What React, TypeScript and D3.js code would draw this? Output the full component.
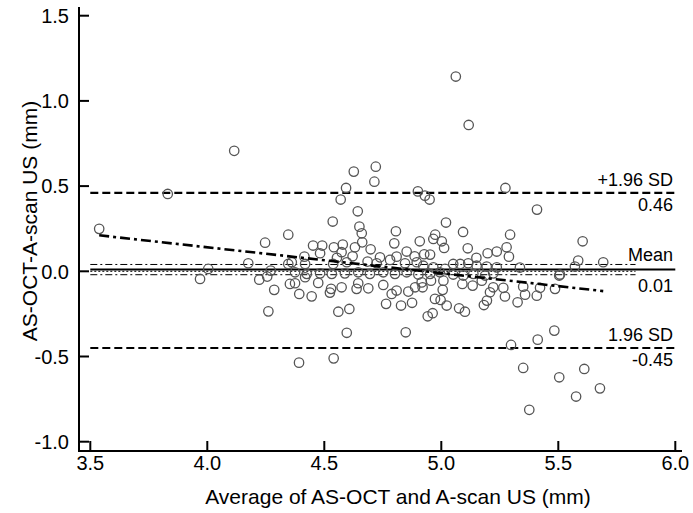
import React from "react";
import * as d3 from "d3";

// Average of AS-OCT and A-scan US (mm)
const averages = [
  3.538, 3.831, 4.115, 4.004, 3.969, 4.175, 4.222, 4.256, 4.271, 4.286, 4.261, 4.247, 4.346, 4.346, 4.353, 4.392,
  5.062, 5.117, 4.626, 4.720, 4.714, 4.593, 4.570, 4.900, 4.930, 4.950, 5.274, 4.643, 4.536, 5.020, 4.650, 4.660,
  4.806, 5.093, 5.294, 4.974, 4.966, 4.662, 4.799, 4.908, 5.002, 5.012, 5.113, 5.279, 4.452, 4.491, 4.541, 4.579,
  4.631, 4.698, 4.482, 4.574, 4.621, 4.738, 4.809, 4.852, 4.886, 4.927, 4.952, 5.198, 5.237, 5.289, 4.415, 4.554,
  4.685, 4.781, 5.081, 5.150, 5.409, 5.604, 5.585, 5.692, 5.504, 5.571,
  4.361, 4.418, 4.538, 4.596, 4.724, 4.845, 4.895, 4.375, 4.425, 4.482, 4.532, 4.588, 4.645, 4.695, 4.752, 4.802,
  4.852, 4.902, 4.923, 4.966, 5.016, 5.051, 5.115, 5.151, 5.194, 5.237, 4.952, 4.994, 5.051, 5.094, 5.137, 5.187,
  5.222, 5.507, 5.336,
  4.375, 4.393, 4.446, 4.474, 4.529, 4.524, 4.574, 4.645, 4.638, 4.688, 4.752, 4.788, 4.809, 4.859, 4.888, 4.920,
  4.956, 5.006, 4.973, 4.997, 5.023, 4.764, 4.828, 4.875, 5.076, 5.101, 4.560, 4.607, 4.942, 4.963, 5.090, 5.134,
  5.182, 5.195, 5.208, 5.222, 5.272, 5.326, 5.358, 4.418, 4.916, 5.009, 5.173, 5.265, 5.350, 5.408, 5.422, 5.486,
  4.596, 4.848, 5.298, 4.540, 5.350, 5.412, 5.483, 5.504, 5.611, 5.678, 5.576, 5.376,
];

// AS-OCT minus A-scan US (mm)
const differences = [
  0.249, 0.454, 0.707, 0.014, -0.045, 0.047, -0.049, -0.031, 0.004, -0.109, -0.235, 0.168, 0.215, 0.043, -0.074, -0.536,
  1.143, 0.859, 0.585, 0.614, 0.526, 0.489, 0.421, 0.469, 0.444, 0.421, 0.489, 0.352, 0.292, 0.286, 0.262, 0.223,
  0.235, 0.231, 0.215, 0.215, 0.190, 0.170, 0.164, 0.176, 0.176, 0.137, 0.135, 0.141, 0.151, 0.151, 0.141, 0.157,
  0.141, 0.129, 0.106, 0.112, 0.088, 0.082, 0.086, 0.116, 0.088, 0.100, 0.098, 0.106, 0.116, 0.086, 0.086, 0.079,
  0.057, 0.067, 0.043, 0.079, 0.362, 0.176, 0.063, 0.053, -0.025, 0.028,
  0.053, 0.043, 0.043, 0.053, 0.047, 0.047, 0.053, -0.006, -0.015, -0.012, -0.015, -0.012, -0.006, -0.015, -0.006, -0.015,
  -0.006, -0.019, 0.033, 0.023, 0.014, 0.043, 0.047, 0.033, 0.028, 0.023, -0.015, -0.006, -0.019, -0.025, -0.015, -0.025,
  -0.012, -0.019, 0.022,
  -0.070, -0.133, -0.147, -0.068, -0.103, -0.125, -0.094, -0.070, -0.103, -0.100, -0.080, -0.133, -0.113, -0.119, -0.094, -0.094,
  -0.055, -0.109, -0.162, -0.168, -0.201, -0.191, -0.201, -0.185, -0.217, -0.237, -0.237, -0.221, -0.264, -0.246, -0.074, -0.084,
  -0.198, -0.172, -0.123, -0.094, -0.148, -0.182, -0.137, -0.035, -0.065, -0.055, -0.055, -0.097, -0.090, -0.143, -0.097, -0.103,
  -0.361, -0.358, -0.432, -0.511, -0.567, -0.401, -0.348, -0.622, -0.573, -0.687, -0.735, -0.813,
];

const xTicks = [3.5, 4.0, 4.5, 5.0, 5.5, 6.0];
const yTicks = [-1.0, -0.5, 0.0, 0.5, 1.0, 1.5];

const meanDiff = 0.01;
const upperLoA = 0.46;
const lowerLoA = -0.45;
const meanCILow = -0.02;
const meanCIHigh = 0.04;
const zeroLine = 0;
const regIntercept = 0.749;
const regSlope = -0.152;

const xTitle = "Average of AS-OCT and A-scan US (mm)";
const yTitle = "AS-OCT-A-scan US (mm)";

export default function App() {
  const W = 693;
  const H = 513;
  const x = d3.scaleLinear().domain([3.5, 6.0]).range([90.3, 675.3]);
  const y = d3.scaleLinear().domain([-1.0, 1.5]).range([441.7, 15.7]);
  const axX = 79;
  const axY = 451;
  const fmt = (v: number) => v.toFixed(1);
  const font = "'Liberation Sans', Arial, Helvetica, sans-serif";

  const xMin = d3.min(averages) as number;
  const xMax = d3.max(averages) as number;
  const line = d3.line<[number, number]>().x((d) => x(d[0])).y((d) => y(d[1]));
  const regPath = line([
    [xMin, regIntercept + regSlope * xMin],
    [xMax, regIntercept + regSlope * xMax],
  ]);
  const ciEnd = 5.83;

  const hline = (v: number, x0: number, x1: number) => line([[x0, v], [x1, v]]) as string;

  return (
    <div style={{ position: "absolute", left: 0, top: 0 }}>
      <svg width={W} height={H} style={{ display: "block", background: "#fff" }} fontFamily={font}>
        {/* reference lines */}
        <path d={hline(upperLoA, 3.5, 6.0)} stroke="#000" strokeWidth={2.2} strokeDasharray="8,4" fill="none" />
        <path d={hline(lowerLoA, 3.5, 6.0)} stroke="#000" strokeWidth={2.2} strokeDasharray="8,4" fill="none" />
        <path d={hline(meanCIHigh, 3.5, ciEnd)} stroke="#000" strokeWidth={1} strokeDasharray="7,3,2,3" fill="none" />
        <path d={hline(meanCILow, 3.5, ciEnd)} stroke="#000" strokeWidth={1} strokeDasharray="7,3,2,3" fill="none" />
        <path d={hline(zeroLine, 3.5, ciEnd)} stroke="#000" strokeWidth={1} strokeDasharray="2,2" fill="none" />
        <path d={hline(meanDiff, 3.5, 6.0)} stroke="#000" strokeWidth={2} fill="none" />

        {/* points */}
        {averages.map((a, i) => (
          <circle key={i} cx={x(a)} cy={y(differences[i])} r={4.7} fill="none" stroke="#555" strokeWidth={1.3} />
        ))}

        {/* regression line */}
        <path d={regPath as string} stroke="#000" strokeWidth={2.6} strokeDasharray="10,4,3,4" fill="none" />

        {/* right labels */}
        <g fontSize={18} textAnchor="end" fill="#000">
          <text x={673} y={y(upperLoA) - 6.5}>+1.96 SD</text>
          <text x={673} y={y(upperLoA) + 18}>{upperLoA.toFixed(2)}</text>
          <text x={673} y={y(meanDiff) - 9}>Mean</text>
          <text x={673} y={y(meanDiff) + 22.5}>{meanDiff.toFixed(2)}</text>
          <text x={673} y={y(lowerLoA) - 6.5}>1.96 SD</text>
          <text x={673} y={y(lowerLoA) + 18}>{lowerLoA.toFixed(2)}</text>
        </g>

        {/* axes */}
        <line x1={axX} y1={7} x2={axX} y2={axY + 1} stroke="#000" strokeWidth={2} />
        <line x1={axX - 1} y1={axY} x2={682} y2={axY} stroke="#000" strokeWidth={2} />
        {yTicks.map((t) => (
          <g key={"y" + t}>
            <line x1={axX} x2={axX + 10} y1={y(t)} y2={y(t)} stroke="#000" strokeWidth={2} />
            <text x={69} y={y(t)} dy="0.36em" textAnchor="end" fontSize={20}>
              {fmt(t)}
            </text>
          </g>
        ))}
        {xTicks.map((t) => (
          <g key={"x" + t}>
            <line x1={x(t)} x2={x(t)} y1={axY} y2={axY - 10} stroke="#000" strokeWidth={2} />
            <text x={x(t)} y={470} textAnchor="middle" fontSize={20}>
              {fmt(t)}
            </text>
          </g>
        ))}
        <text x={398} y={504} textAnchor="middle" fontSize={21}>
          {xTitle}
        </text>
        <text transform="translate(37,221) rotate(-90)" textAnchor="middle" fontSize={21}>
          {yTitle}
        </text>
      </svg>
    </div>
  );
}
